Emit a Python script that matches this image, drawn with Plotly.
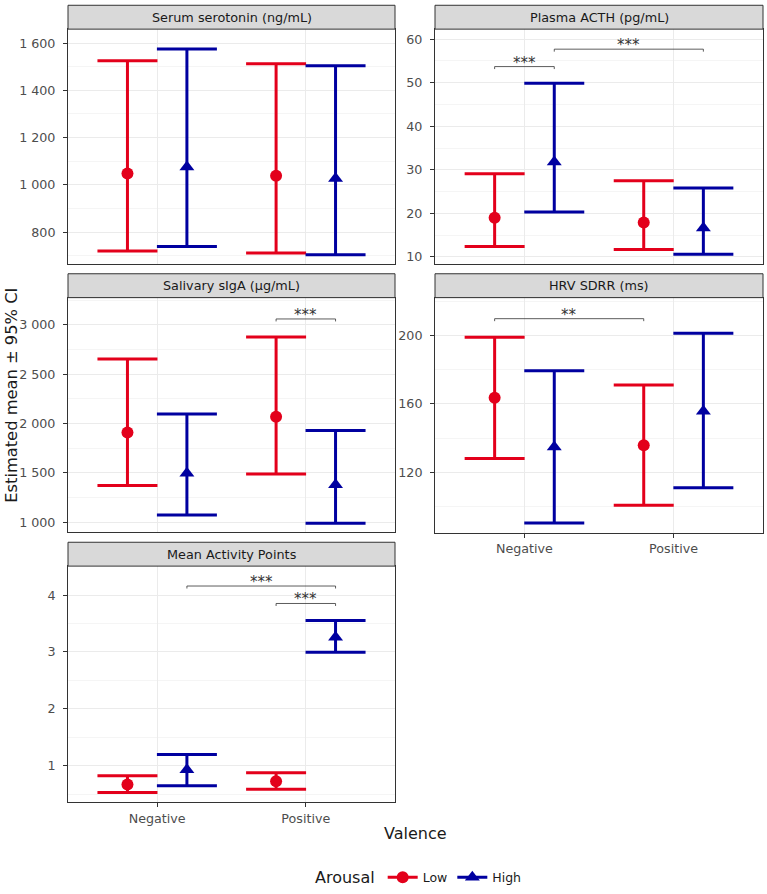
import plotly.graph_objects as go

W, H = 767, 894
FONT = "DejaVu Sans"

# ---------------- data ----------------
categories = ["Negative", "Positive"]
cat_pos = [1, 2]
dodge = 0.2

panel_titles = [
    "Serum serotonin (ng/mL)",
    "Plasma ACTH (pg/mL)",
    "Salivary sIgA (µg/mL)",
    "HRV SDRR (ms)",
    "Mean Activity Points",
]

# Serum serotonin
sero_low_mean = [1048, 1038]
sero_low_lo = [720, 712]
sero_low_hi = [1525, 1513]
sero_high_mean = [1075, 1027]
sero_high_lo = [739, 704]
sero_high_hi = [1575, 1504]

# Plasma ACTH
acth_low_mean = [19.0, 17.9]
acth_low_lo = [12.4, 11.7]
acth_low_hi = [29.1, 27.5]
acth_high_mean = [31.8, 16.6]
acth_high_lo = [20.3, 10.6]
acth_high_hi = [49.9, 25.8]

# Salivary sIgA
iga_low_mean = [1909, 2070]
iga_low_lo = [1372, 1490]
iga_low_hi = [2654, 2876]
iga_high_mean = [1497, 1380]
iga_high_lo = [1074, 990]
iga_high_hi = [2097, 1929]

# HRV SDRR
hrv_low_mean = [163.5, 135.7]
hrv_low_lo = [128.1, 100.7]
hrv_low_hi = [198.8, 171.0]
hrv_high_mean = [134.7, 155.6]
hrv_high_lo = [90.4, 110.9]
hrv_high_hi = [179.3, 201.2]

# Mean activity points
act_low_mean = [0.671, 0.729]
act_low_lo = [0.530, 0.588]
act_low_hi = [0.823, 0.876]
act_high_mean = [0.93, 3.26]
act_high_lo = [0.647, 2.996]
act_high_hi = [1.199, 3.554]

# y tick values / labels
sero_ticks = [800, 1000, 1200, 1400, 1600]
sero_ticktext = ["800", "1 000", "1 200", "1 400", "1 600"]
acth_ticks = [10, 20, 30, 40, 50, 60]
acth_ticktext = ["10", "20", "30", "40", "50", "60"]
iga_ticks = [1000, 1500, 2000, 2500, 3000]
iga_ticktext = ["1 000", "1 500", "2 000", "2 500", "3 000"]
hrv_ticks = [120, 160, 200]
hrv_ticktext = ["120", "160", "200"]
act_ticks = [1, 2, 3, 4]
act_ticktext = ["1", "2", "3", "4"]

# significance brackets: (x_start, x_end, y, label)
acth_brackets = [(0.8, 1.2, 53.7, "***"), (1.2, 2.2, 57.7, "***")]
iga_brackets = [(1.8, 2.2, 3060, "***")]
hrv_brackets = [(0.8, 1.8, 209.7, "**")]
act_brackets = [(1.2, 2.2, 4.16, "***"), (1.8, 2.2, 3.853, "***")]

# ---------------- styling / layout ----------------
RED = "#E3001B"
BLUE = "#0000A0"

panels = [
    dict(low=(sero_low_mean, sero_low_lo, sero_low_hi), high=(sero_high_mean, sero_high_lo, sero_high_hi),
         yrange=[667, 1659], ticks=sero_ticks, ticktext=sero_ticktext, minor=[700, 900, 1100, 1300, 1500],
         brackets=[], box=(68, 395, 29.3, 265), xlabels=False),
    dict(low=(acth_low_mean, acth_low_lo, acth_low_hi), high=(acth_high_mean, acth_high_lo, acth_high_hi),
         yrange=[8.47, 62.3], ticks=acth_ticks, ticktext=acth_ticktext, minor=[15, 25, 35, 45, 55],
         brackets=acth_brackets, box=(435, 763, 29.3, 265), xlabels=False),
    dict(low=(iga_low_mean, iga_low_lo, iga_low_hi), high=(iga_high_mean, iga_high_lo, iga_high_hi),
         yrange=[902, 3276], ticks=iga_ticks, ticktext=iga_ticktext, minor=[1250, 1750, 2250, 2750, 3250],
         brackets=iga_brackets, box=(68, 395, 299.3, 535), xlabels=False),
    dict(low=(hrv_low_mean, hrv_low_lo, hrv_low_hi), high=(hrv_high_mean, hrv_high_lo, hrv_high_hi),
         yrange=[84.8, 222], ticks=hrv_ticks, ticktext=hrv_ticktext, minor=[100, 140, 180, 220],
         brackets=hrv_brackets, box=(435, 763, 299.3, 535.5), xlabels=True),
    dict(low=(act_low_mean, act_low_lo, act_low_hi), high=(act_high_mean, act_high_lo, act_high_hi),
         yrange=[0.354, 4.51], ticks=act_ticks, ticktext=act_ticktext, minor=[0.5, 1.5, 2.5, 3.5, 4.5],
         brackets=act_brackets, box=(68, 395, 569.3, 807), xlabels=True),
]

STRIP_H = 24


def fx(px):
    return px / W


def fy(py):
    return 1 - py / H


fig = go.Figure()
layout = dict(
    template="none",
    width=W, height=H, autosize=False,
    margin=dict(l=0, r=0, t=0, b=0, pad=0),
    paper_bgcolor="white", plot_bgcolor="white",
    font=dict(family=FONT, color="#1A1A1A"),
    showlegend=True,
)
shapes = []
annotations = []

for i, (title, p) in enumerate(zip(panel_titles, panels)):
    n = i + 1
    xa = "x" if n == 1 else f"x{n}"
    ya = "y" if n == 1 else f"y{n}"
    xkey = "xaxis" if n == 1 else f"xaxis{n}"
    ykey = "yaxis" if n == 1 else f"yaxis{n}"
    x0, x1, y0, y1 = p["box"]

    for level, col, sym, size, off in (("low", RED, "circle", 12, -dodge), ("high", BLUE, "triangle-up", 13, dodge)):
        mean, lo, hi = p[level]
        fig.add_trace(go.Scatter(
            x=[c + off for c in cat_pos], y=mean, mode="markers",
            marker=dict(color=col, symbol=sym, size=size, line=dict(width=0)),
            error_y=dict(type="data", symmetric=False,
                         array=[h - m for h, m in zip(hi, mean)],
                         arrayminus=[m - l for m, l in zip(mean, lo)],
                         color=col, thickness=3, width=30),
            xaxis=xa, yaxis=ya, showlegend=False, hoverinfo="skip",
        ))

    layout[xkey] = dict(
        domain=[fx(x0), fx(x1)], anchor=ya, range=[0.4, 2.6], automargin=False,
        tickmode="array", tickvals=cat_pos, ticktext=categories,
        showticklabels=p["xlabels"], ticks="outside" if p["xlabels"] else "",
        ticklen=4, tickcolor="#333333", tickwidth=1,
        tickfont=dict(size=12.7, color="#4D4D4D", family=FONT),
        showgrid=True, gridcolor="#EBEBEB", gridwidth=1,
        showline=True, mirror=True, linecolor="#333333", linewidth=1,
        zeroline=False, fixedrange=True,
    )
    layout[ykey] = dict(
        domain=[fy(y1), fy(y0)], anchor=xa, range=p["yrange"], automargin=False,
        tickmode="array", tickvals=p["ticks"], ticktext=p["ticktext"],
        ticks="outside", ticklen=4, tickcolor="#333333", tickwidth=1,
        ticklabelstandoff=5,
        tickfont=dict(size=12.7, color="#4D4D4D", family=FONT),
        showgrid=True, gridcolor="#EBEBEB", gridwidth=1,
        minor=dict(tickmode="array", tickvals=p["minor"], showgrid=True,
                   gridcolor="#EBEBEB", gridwidth=0.5, ticks=""),
        showline=True, mirror=True, linecolor="#333333", linewidth=1,
        zeroline=False, fixedrange=True,
    )

    # strip
    shapes.append(dict(type="rect", xref="paper", yref="paper",
                       x0=fx(x0), x1=fx(x1), y0=fy(y0), y1=fy(y0 - STRIP_H),
                       fillcolor="#D9D9D9", line=dict(color="#333333", width=1), layer="above"))
    annotations.append(dict(text=title, xref="paper", yref="paper",
                            x=fx((x0 + x1) / 2), y=fy(y0 - STRIP_H / 2),
                            xanchor="center", yanchor="middle", showarrow=False,
                            font=dict(size=12.8, color="#1A1A1A", family=FONT)))

    # significance brackets
    span = p["yrange"][1] - p["yrange"][0]
    tip = span * 2.5 / (y1 - y0)
    for bx0, bx1, by, lab in p["brackets"]:
        shapes.append(dict(type="path", xref=xa, yref=ya,
                           path=f"M{bx0},{by - tip} L{bx0},{by} L{bx1},{by} L{bx1},{by - tip}",
                           line=dict(color="#333333", width=0.8)))
        annotations.append(dict(text=lab, xref=xa, yref=ya, x=(bx0 + bx1) / 2, y=by,
                                xanchor="center", yanchor="bottom", yshift=-7, showarrow=False,
                                font=dict(size=15, color="#333333", family=FONT)))

# axis titles
annotations.append(dict(text="Estimated mean ± 95% CI", xref="paper", yref="paper",
                        x=fx(12), y=fy(398), textangle=-90, xanchor="center", yanchor="middle",
                        showarrow=False, font=dict(size=16.3, color="#1A1A1A", family=FONT)))
annotations.append(dict(text="Valence", xref="paper", yref="paper",
                        x=fx(415.5), y=fy(838), xanchor="center", yanchor="middle",
                        showarrow=False, font=dict(size=16, color="#1A1A1A", family=FONT)))

# legend entries
for name, col, sym, size in (("Low", RED, "circle", 12), ("High", BLUE, "triangle-up", 13)):
    fig.add_trace(go.Scatter(x=[None], y=[None], mode="lines+markers", name=name,
                             line=dict(color=col, width=3),
                             marker=dict(color=col, symbol=sym, size=size),
                             xaxis="x", yaxis="y"))

layout["legend"] = dict(
    orientation="h", x=fx(420), xanchor="center", y=fy(883), yanchor="middle",
    title=dict(text="Arousal", side="left", font=dict(size=16, color="#1A1A1A", family=FONT)),
    font=dict(size=12.5, color="#1A1A1A", family=FONT), itemwidth=30, bgcolor="rgba(0,0,0,0)",
)
layout["shapes"] = shapes
layout["annotations"] = annotations
fig.update_layout(**layout)

fig.write_html("out.html", config={"displayModeBar": False, "staticPlot": True},
               post_script="document.body.style.margin='0';document.body.style.overflow='hidden';")
